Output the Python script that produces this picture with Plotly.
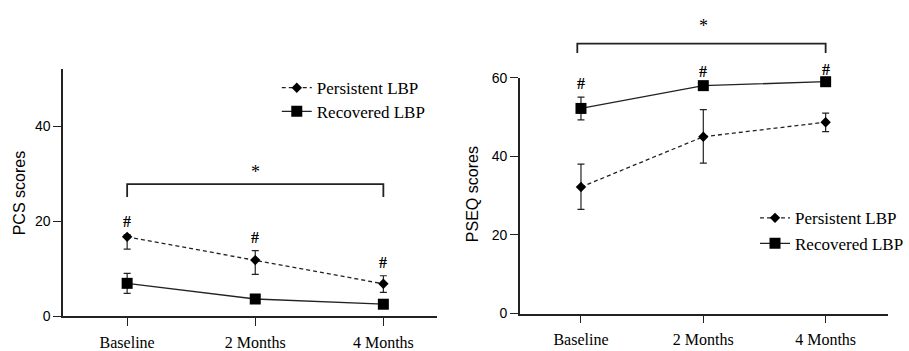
import plotly.graph_objects as go

categories = ["Baseline", "2 Months", "4 Months"]
series_names = ["Persistent LBP", "Recovered LBP"]
y_titles = ["PCS scores", "PSEQ scores"]

# PCS (left)
pcs_persistent = [16.7, 11.8, 6.8]
pcs_persistent_up = [0.4, 2.0, 1.7]
pcs_persistent_dn = [2.6, 3.0, 1.8]
pcs_recovered = [6.9, 3.6, 2.5]
pcs_recovered_up = [2.1, 0.4, 0.4]
pcs_recovered_dn = [2.1, 0.4, 0.4]
pcs_hash_y = [20.0, 16.5, 11.2]
pcs_bracket = [27.8, 25.1, 30.4]  # bar level, end level, star level

# PSEQ (right)
pseq_persistent = [32.2, 45.0, 48.7]
pseq_persistent_up = [5.8, 6.9, 2.3]
pseq_persistent_dn = [5.7, 6.7, 2.4]
pseq_recovered = [52.2, 58.0, 59.0]
pseq_recovered_up = [2.9, 0.4, 0.4]
pseq_recovered_dn = [2.9, 0.4, 0.4]
pseq_hash_y = [58.5, 61.5, 62.2]
pseq_bracket = [68.7, 66.3, 73.1]

pcs_ticks = [0, 20, 40]
pseq_ticks = [0, 20, 40, 60]

W, H = 909, 351
INK = "#222222"
SERIF = "Liberation Serif, Times New Roman, serif"
SANS = "Liberation Sans, Arial, sans-serif"

L_dom_x = [64.5 / W, 447 / W]
L_dom_y = [1 - 326.7 / H, 1 - 65 / H]
R_dom_x = [531.5 / W, 908 / W]
R_dom_y = [1 - 324 / H, 1 - 74 / H]
L_range_x = [-0.5, 2.42]
L_range_y = [0, 52]
R_range_x = [-0.5, 2.51]
R_range_y = [0, 60]


def to_paper(v, dom, rng):
    return dom[0] + (v - rng[0]) / (rng[1] - rng[0]) * (dom[1] - dom[0])


fig = go.Figure()

idx = [0, 1, 2]


def add_series(xa, ya, y, up, dn, name, symbol, size, dash, legend):
    fig.add_trace(go.Scatter(
        x=idx, y=y, xaxis=xa, yaxis=ya, name=name, mode="lines+markers",
        line=dict(color=INK, width=1.3, dash=dash),
        marker=dict(symbol=symbol, size=size, color="black"),
        error_y=dict(type="data", symmetric=False, array=up, arrayminus=dn,
                     color=INK, thickness=1.2, width=3.5),
        legend=legend, cliponaxis=False,
    ))


add_series("x", "y", pcs_persistent, pcs_persistent_up, pcs_persistent_dn,
           series_names[0], "diamond", 8, "4px,3px", "legend")
add_series("x", "y", pcs_recovered, pcs_recovered_up, pcs_recovered_dn,
           series_names[1], "square", 11, "solid", "legend2")
add_series("x2", "y2", pseq_persistent, pseq_persistent_up, pseq_persistent_dn,
           series_names[0], "diamond", 8, "4px,3px", "legend3")
add_series("x2", "y2", pseq_recovered, pseq_recovered_up, pseq_recovered_dn,
           series_names[1], "square", 11, "solid", "legend4")

axis_common = dict(showgrid=False, zeroline=False, showline=True, linecolor=INK,
                   linewidth=1.5, ticks="outside", ticklen=8, tickcolor=INK,
                   tickwidth=1.3)

xaxis_common = dict(axis_common, tickmode="array", tickvals=idx, ticktext=categories,
                    tickfont=dict(family=SERIF, size=16, color="black"),
                    ticklabelstandoff=3)
yfont = dict(family=SANS, size=14, color="black")

fig.update_layout(
    width=W, height=H, margin=dict(l=0, r=0, t=0, b=0),
    paper_bgcolor="white", plot_bgcolor="white",
    xaxis=dict(xaxis_common, domain=L_dom_x, range=L_range_x, anchor="y"),
    yaxis=dict(axis_common, domain=L_dom_y, range=L_range_y, anchor="x",
               tickvals=pcs_ticks, tickfont=yfont),
    xaxis2=dict(xaxis_common, domain=R_dom_x, range=R_range_x, anchor="y2"),
    yaxis2=dict(axis_common, domain=R_dom_y, range=R_range_y, anchor="x2",
                tickvals=pseq_ticks, tickfont=yfont),
    showlegend=True,
)

leg_font = dict(family=SERIF, size=17, color="black")
leg_common = dict(font=leg_font, bgcolor="rgba(0,0,0,0)", borderwidth=0,
                  xanchor="left", yanchor="middle", itemwidth=30)
fig.update_layout(
    legend=dict(leg_common, x=283 / W, y=1 - 85 / H),
    legend2=dict(leg_common, x=283 / W, y=1 - 110 / H),
    legend3=dict(leg_common, x=772 / W, y=1 - 223 / H),
    legend4=dict(leg_common, x=772 / W, y=1 - 250 / H),
)

shapes = []
annotations = []

# Y-axis titles
title_font = dict(family=SANS, size=16, color="black")
annotations.append(dict(x=20 / W, y=1 - 197 / H, xref="paper", yref="paper",
                        text=y_titles[0], textangle=-90, showarrow=False,
                        font=title_font, xanchor="center", yanchor="middle"))
annotations.append(dict(x=483 / W, y=1 - 197 / H, xref="paper", yref="paper",
                        text=y_titles[1], textangle=-90, showarrow=False,
                        font=title_font, xanchor="center", yanchor="middle"))

hash_font = dict(family=SERIF, size=16, color="black")

# Left: '#' marks and bracket
for i, hy in zip(idx, pcs_hash_y):
    annotations.append(dict(x=i, y=hy, xref="x", yref="y", text="<b>#</b>", showarrow=False,
                            font=hash_font, yanchor="middle"))
bar, end, star = pcs_bracket
shapes.append(dict(type="path", xref="x", yref="y",
                   path=f"M 0 {end} L 0 {bar} L 2 {bar} L 2 {end}",
                   line=dict(color=INK, width=1.8)))
annotations.append(dict(x=1, y=star, xref="x", yref="y", text="*", showarrow=False,
                        font=dict(family=SERIF, size=18, color="black"), yanchor="middle"))

# Right: '#' marks and bracket (above axis range -> paper y)
for i, hy in zip(idx, pseq_hash_y):
    annotations.append(dict(x=i, y=to_paper(hy, R_dom_y, R_range_y), xref="x2", yref="paper",
                            text="<b>#</b>", showarrow=False, font=hash_font,
                            yanchor="middle"))
bar, end, star = pseq_bracket
pb = to_paper(bar, R_dom_y, R_range_y)
pe = to_paper(end, R_dom_y, R_range_y)
shapes.append(dict(type="path", xref="x2", yref="paper",
                   path=f"M -0.03 {pe} L -0.03 {pb} L 2 {pb} L 2 {pe}",
                   line=dict(color=INK, width=1.8)))
annotations.append(dict(x=1, y=to_paper(star, R_dom_y, R_range_y), xref="x2", yref="paper",
                        text="*", showarrow=False,
                        font=dict(family=SERIF, size=18, color="black"), yanchor="middle"))

fig.update_layout(shapes=shapes, annotations=annotations)

fig.write_html("out.html")
